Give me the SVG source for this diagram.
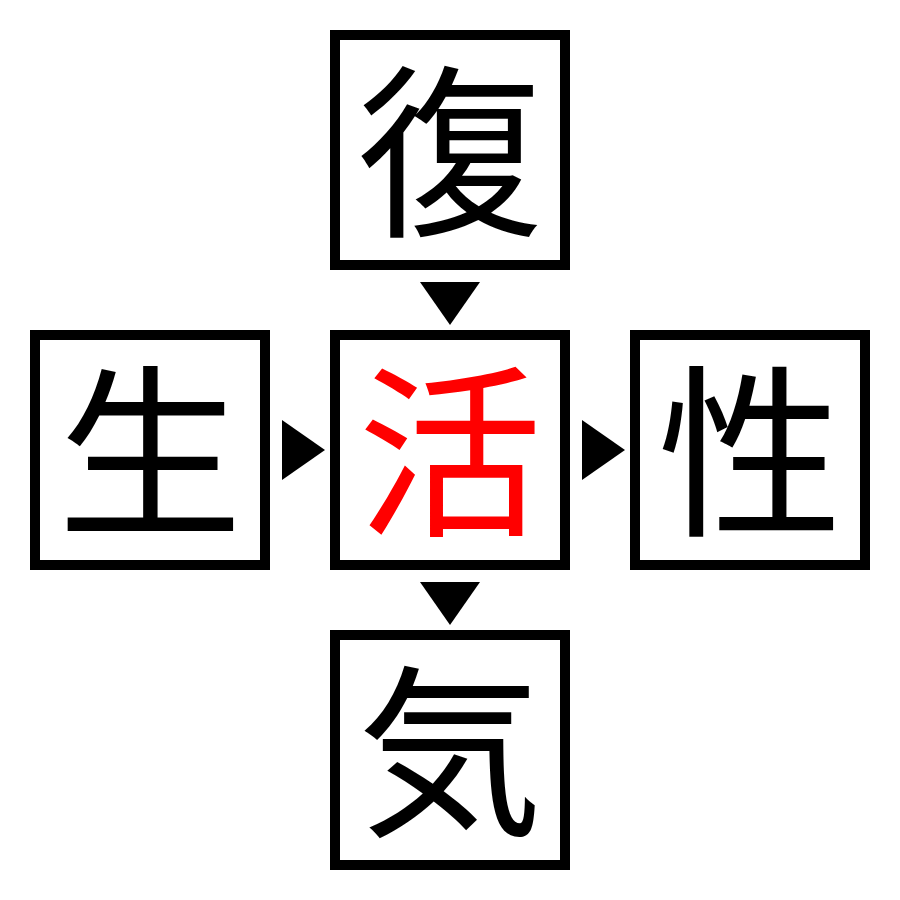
<svg xmlns="http://www.w3.org/2000/svg" width="900" height="900" viewBox="0 0 900 900">
<style>
.box{fill:#fff;stroke:#000;stroke-width:10}
.ch{font-family:"Noto Sans CJK JP","Noto Sans CJK SC",sans-serif;font-size:185px;text-anchor:middle;fill:#000}
.red{fill:#ff0000}
.arr{fill:#000}
</style>
<rect width="900" height="900" fill="#fff"/>
<g id="node-top"><rect class="box" x="335" y="35" width="230" height="230"/><text class="ch" x="450" y="222">復</text></g>
<g id="node-left"><rect class="box" x="35" y="335" width="230" height="230"/><text class="ch" x="150" y="522">生</text></g>
<g id="node-center"><rect class="box" x="335" y="335" width="230" height="230"/><text class="ch red" x="450" y="522">活</text></g>
<g id="node-right"><rect class="box" x="635" y="335" width="230" height="230"/><text class="ch" x="750" y="522">性</text></g>
<g id="node-bottom"><rect class="box" x="335" y="635" width="230" height="230"/><text class="ch" x="450" y="822">気</text></g>
<g id="connectors">
<polygon class="arr" points="420,282 480,282 450,325"/>
<polygon class="arr" points="282,420 282,480 325,450"/>
<polygon class="arr" points="582,420 582,480 625,450"/>
<polygon class="arr" points="420,582 480,582 450,625"/>
</g>
</svg>
